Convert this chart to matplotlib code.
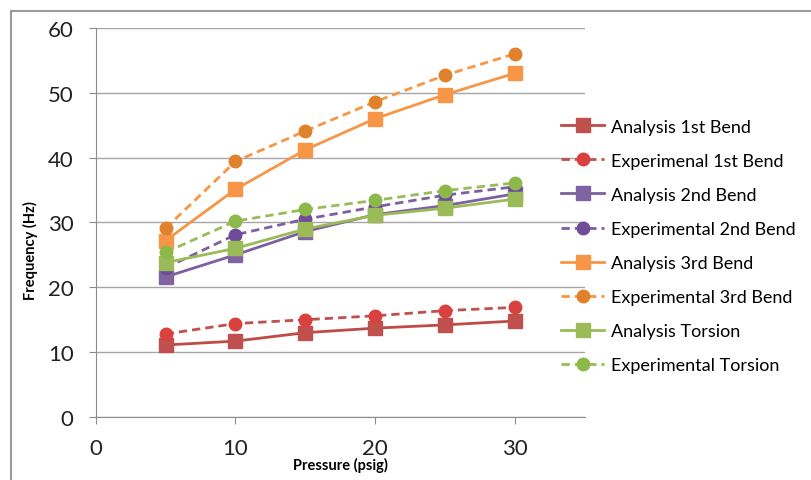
import matplotlib
matplotlib.use('Agg')
import matplotlib.pyplot as plt
from matplotlib.patches import Rectangle

plt.rcParams['font.family'] = ['Lato', 'DejaVu Sans']

# Data
pressure = [5, 10, 15, 20, 25, 30]
analysis1 = [11.1, 11.7, 13.0, 13.7, 14.2, 14.8]
experimental1 = [12.8, 14.4, 15.0, 15.6, 16.4, 16.9]
analysis2 = [21.6, 25.0, 28.6, 31.2, 32.6, 34.4]
experimental2 = [23.0, 28.1, 30.5, 32.4, 34.2, 35.5]
analysis3 = [27.2, 35.1, 41.2, 46.0, 49.7, 53.0]
experimental3 = [29.1, 39.4, 44.1, 48.6, 52.7, 56.0]
analysisT = [23.8, 26.0, 29.0, 31.1, 32.2, 33.6]
experimentalT = [25.4, 30.2, 32.0, 33.4, 34.9, 36.1]

series = [
    ('Analysis 1st Bend', analysis1, '#BE4B48', '#C0504D', 's', '-'),
    ('Experimenal 1st Bend', experimental1, '#C0504D', '#D8413E', 'o', '--'),
    ('Analysis 2nd Bend', analysis2, '#7D60A0', '#8064A2', 's', '-'),
    ('Experimental 2nd Bend', experimental2, '#7D60A0', '#6E4C9A', 'o', '--'),
    ('Analysis 3rd Bend', analysis3, '#F79646', '#F79646', 's', '-'),
    ('Experimental 3rd Bend', experimental3, '#F79646', '#E0812C', 'o', '--'),
    ('Analysis Torsion', analysisT, '#9BBB59', '#9BBB59', 's', '-'),
    ('Experimental Torsion', experimentalT, '#9BBB59', '#8DB84A', 'o', '--'),
]

fig = plt.figure(figsize=(8.12, 4.81), dpi=100)
ax = fig.add_axes([0.118, 0.131, 0.602, 0.809])

for label, vals, lc, mc, mk, ls in series:
    ms = 10 if mk == 's' else 9
    ax.plot(pressure, vals, linestyle=ls, color=lc, linewidth=2.0,
            marker=mk, markersize=ms, markerfacecolor=mc, markeredgecolor=mc,
            label=label, dashes=(3, 1.8) if ls == '--' else (None, None))

ax.set_xlim(0, 35)
ax.set_ylim(0, 60)
ax.set_xticks([0, 10, 20, 30])
ax.set_yticks(range(0, 61, 10))
ax.grid(axis='y', color='#A6A6A6', linewidth=1.0)
ax.set_axisbelow(True)
for side in ('top', 'right'):
    ax.spines[side].set_visible(False)
ax.spines['left'].set_color('#8C8C8C')
ax.spines['bottom'].set_color('#8C8C8C')
ax.tick_params(axis='both', colors='#8C8C8C', labelcolor='#222222',
               labelsize=16, length=5, direction='out')
ax.tick_params(axis='y', pad=11)
ax.tick_params(axis='x', pad=10)

ax.set_ylabel('Frequency (Hz)', fontsize=10.5, fontweight='bold')
ax.yaxis.set_label_coords(-0.118, 0.43)
ax.set_xlabel('Pressure (psig)', fontsize=10.5, fontweight='bold')
ax.xaxis.set_label_coords(0.5, -0.103)

fig.legend(loc='upper left', bbox_to_anchor=(0.671, 0.785), frameon=False,
           fontsize=13, handlelength=2.4, labelspacing=1.0, handletextpad=0.35)

# outer chart border
fig.patches.append(Rectangle((0.014, -0.01), 1.0, 0.985, transform=fig.transFigure,
                             fill=False, edgecolor='#9A9A9A', linewidth=1.5))

fig.savefig('out.png', dpi=100)
